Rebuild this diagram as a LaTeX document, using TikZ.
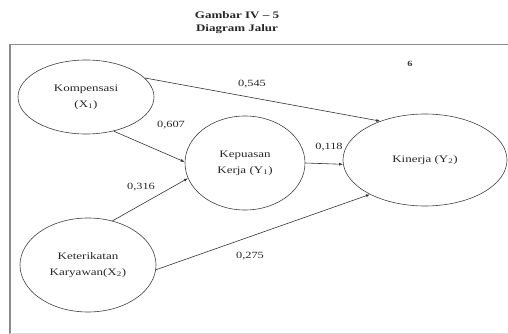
\documentclass[tikz,border=0pt]{standalone}
\usepackage{fontspec}
\setmainfont{Liberation Serif}[FakeStretch=1.3]
\usetikzlibrary{shapes.geometric,arrows.meta}
\tikzset{
	var/.style={ellipse,draw=black!75,line width=0.6pt,align=center,inner sep=0pt,
		font=\fontsize{10}{16}\selectfont,text=black!85},
	path/.style={draw=black!80,line width=0.6pt,-{Latex[length=4pt,width=3pt]}},
	coef/.style={font=\fontsize{9.5}{11}\selectfont,text=black!85,inner sep=0pt}
}
\begin{document}
\begin{tikzpicture}[x=1pt,y=-1pt]
			\useasboundingbox (0,0) rectangle (508,334);
			\draw[black!45,line width=1.6pt] (10,334) -- (10,44.5) -- (508,44.5);
			\draw[black!15,line width=0.8pt] (10,333) -- (508,333);
			\node[font=\bfseries\fontsize{10}{13}\selectfont,align=center,text=black!85] (judul) at (237,23) {Gambar IV -- 5\\Diagram Jalur};
			\node[font=\bfseries\fontsize{8}{9}\selectfont,text=black!80] (nomor) at (410,64) {6};
			\node[var,minimum width=136pt,minimum height=74pt] (x1) at (86,97) {Kompensasi\\(X\textsubscript{1})};
			\node[var,minimum width=120pt,minimum height=94pt] (y1) at (245,163) {Kepuasan\\Kerja (Y\textsubscript{1})};
			\node[var,minimum width=164pt,minimum height=92pt] (y2) at (425,160) {Kinerja (Y\textsubscript{2})};
			\node[var,minimum width=136pt,minimum height=94pt] (x2) at (88,265) {Keterikatan\\Karyawan(X\textsubscript{2})};
			\draw[path] (x1.18) -- (y2.139);
			\draw[path] (x1.309) -- (y1.179);
			\draw[path] (x2.61) -- (y1.195);
			\draw[path] (y1.0) -- (y2.183);
			\draw[path] (x2.356) -- (y2.212);
			\node[coef] (p1) at (252,84) {0,545};
			\node[coef] (p2) at (171,125) {0,607};
			\node[coef] (p3) at (329,147) {0,118};
			\node[coef] (p4) at (141,187) {0,316};
			\node[coef] (p5) at (250,256) {0,275};
		\end{tikzpicture}
\end{document}
